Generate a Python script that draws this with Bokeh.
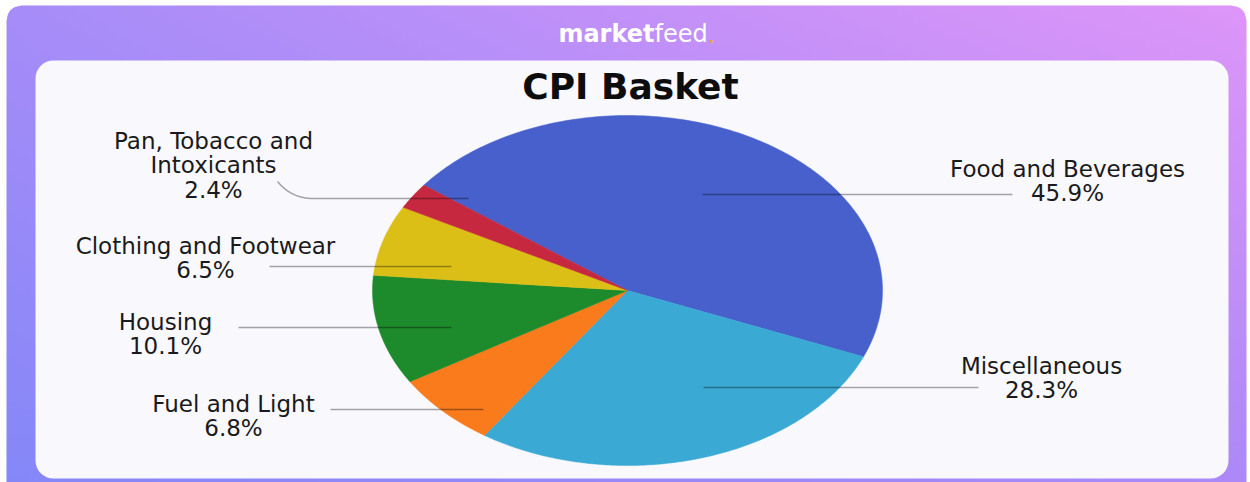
import textwrap
import numpy as np
from bokeh.plotting import figure
from bokeh.models import Range1d, BoxAnnotation
from bokeh.core.properties import value
from bokeh.embed import file_html
from bokeh.resources import INLINE

# ---------------- data ----------------
categories = ["Food and Beverages", "Miscellaneous", "Fuel and Light",
              "Housing", "Clothing and Footwear", "Pan, Tobacco and Intoxicants"]
shares = [45.9, 28.3, 6.8, 10.1, 6.5, 2.4]
colors = ["#4760CC", "#3AA9D3", "#F97B1B", "#1D8A2B", "#DCBF16", "#C6283F"]
title_text = "CPI Basket"
brand_main, brand_rest, brand_dot = "market", "feed", "."

# ---------------- layout ----------------
W, H = 1250, 482
FONT = "DejaVu Sans"

p = figure(width=W, height=H, x_range=Range1d(0, W), y_range=Range1d(0, H),
           toolbar_location=None, output_backend="svg", min_border=0)
p.axis.visible = False
p.xgrid.visible = False
p.ygrid.visible = False
p.outline_line_color = None
p.background_fill_color = "white"
p.border_fill_color = "white"

# gradient background (bilinear between corner colours)
def hex2rgb(h):
    return np.array([int(h[i:i + 2], 16) for i in (1, 3, 5)], float)

BL, BR, TL, TR = map(hex2rgb, ["#8587f8", "#ac89f7", "#a68cf8", "#dd95f8"])
ny, nx = 60, 160
u = np.linspace(0, 1, nx)[None, :, None]
v = np.linspace(0, 1, ny)[:, None, None]
rgb = (1 - u) * (1 - v) * BL + u * (1 - v) * BR + (1 - u) * v * TL + u * v * TR
rgba = np.empty((ny, nx, 4), dtype=np.uint8)
rgba[..., :3] = rgb.round().astype(np.uint8)
rgba[..., 3] = 255
img = rgba.view(np.uint32).reshape(ny, nx)
p.image_rgba(image=[img], x=6, y=0, dw=1240, dh=H - 5, level="image")

# rounded top corners of the outer card (white masks)
r = 14
mx, my = [], []
for (ox, oy, ccx, ccy, a0, a1) in [(6, H - 5, 6 + r, H - 5 - r, 90, 180),
                                   (1246, H - 5, 1246 - r, H - 5 - r, 0, 90)]:
    t = np.deg2rad(np.linspace(a0, a1, 20))
    mx.append(np.concatenate([[ox], ccx + r * np.cos(t)]))
    my.append(np.concatenate([[oy], ccy + r * np.sin(t)]))
p.patches(mx, my, fill_color="white", line_color="white", level="underlay")

# white inner panel
panel = BoxAnnotation(left=35, right=1228, top=H - 60, bottom=H - 478,
                      border_radius=18, fill_color="#f9f8fd", fill_alpha=1,
                      line_color=None, level="underlay")
p.add_layout(panel)

# ---------------- pie (elliptical, as in the image) ----------------
cx, cy, rx, ry = 627, H - 290, 255, 175
start = np.deg2rad(143)
fr = np.array(shares) / np.sum(shares)
ends = start - 2 * np.pi * np.cumsum(fr)
starts = np.concatenate([[start], ends[:-1]])
xs, ys = [], []
for a0, a1 in zip(starts, ends):
    t = np.linspace(a0, a1, 150)
    xs.append(np.concatenate([[cx], cx + rx * np.cos(t)]))
    ys.append(np.concatenate([[cy], cy + ry * np.sin(t)]))
p.patches(xs, ys, fill_color=colors, line_color=colors, line_width=0.5)

# ---------------- leader lines ----------------
seg_x0 = [702, 703, 483, 451, 451, 468]
seg_x1 = [1012, 978, 330, 238, 269, 310]
seg_y = [194, 387, 409, 327, 266, 198]
p.segment(x0=seg_x0, y0=[H - y for y in seg_y], x1=seg_x1, y1=[H - y for y in seg_y],
          line_color="black", line_alpha=0.35, line_width=1.5)
p.quadratic(x0=[310], y0=[H - 198], x1=[277], y1=[H - 181], cx=[290], cy=[H - 197],
            line_color="black", line_alpha=0.35, line_width=1.5)

# ---------------- labels ----------------
def wrap(name):
    return textwrap.fill(name, 16) if len(name) > 22 else name

labels = [f"{wrap(n)}\n{s}%" for n, s in zip(categories, shares)]
label_x = [1067, 1041, 233, 165, 205, 213]
label_top = [155, 352, 390, 308, 232, 127]
p.text(x=label_x, y=[H - t for t in label_top], text=labels,
       text_font=value(FONT), text_font_size="23px", text_align="center",
       text_baseline="top", text_line_height=0.95, text_color="#1a1a1a")

# title
p.text(x=[630], y=[H - 86], text=[title_text], text_font=value(FONT),
       text_font_style="bold", text_font_size="36px", text_align="center",
       text_baseline="middle", text_color="#0d0d0d")

# brand
p.text(x=[654], y=[H - 33], text=[brand_main], text_font=value(FONT),
       text_font_style="bold", text_font_size="24px", text_align="right",
       text_baseline="middle", text_color="white")
p.text(x=[654], y=[H - 33], text=[brand_rest], text_font=value(FONT),
       text_font_size="24px", text_align="left",
       text_baseline="middle", text_color="white")
p.text(x=[707], y=[H - 33], text=[brand_dot], text_font=value(FONT),
       text_font_size="24px", text_align="left",
       text_baseline="middle", text_color="#F5A524")

open("out.html", "w").write(file_html(p, INLINE))
